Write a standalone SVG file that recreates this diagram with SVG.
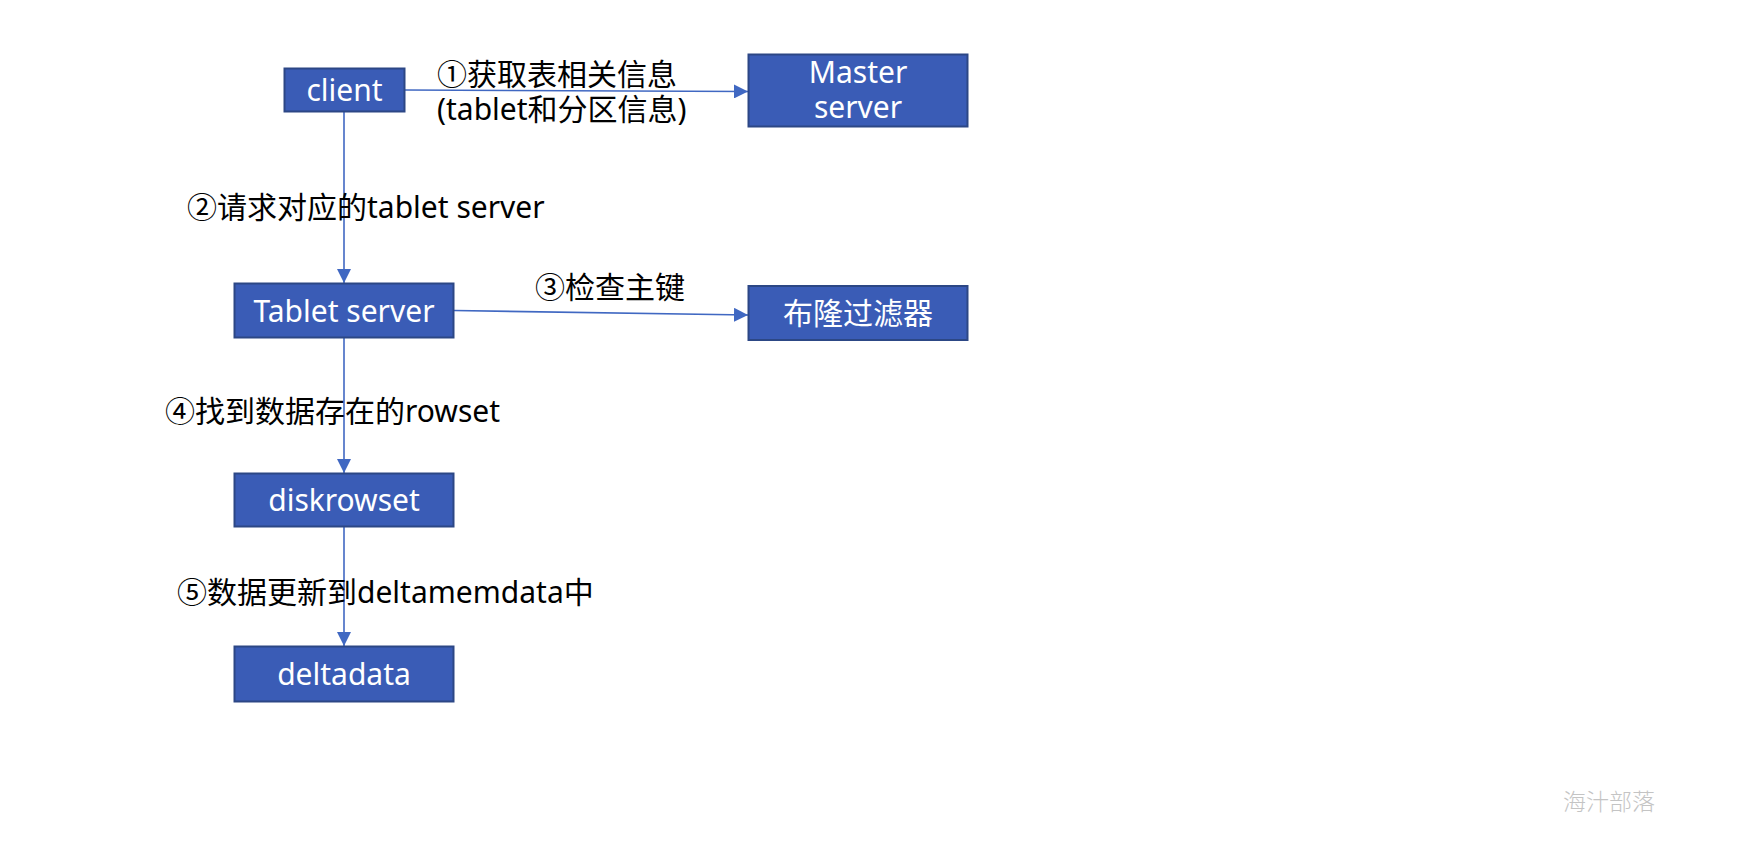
<svg xmlns="http://www.w3.org/2000/svg" width="1758" height="848" viewBox="0 0 1758 848">
<style>
.box{fill:#3A5CB6;stroke:#2C4785;stroke-width:2}
.nt{fill:#ffffff;font-family:"Noto Sans","Noto Sans CJK SC",sans-serif;font-size:30px;text-anchor:middle}
.lbl{fill:#000000;font-family:"Noto Sans","Noto Sans CJK SC",sans-serif;font-size:30px}
.ln{stroke:#4068C2;stroke-width:1.6;fill:none}
.wm{fill:#c4c4c4;font-family:"Noto Sans CJK SC","Noto Sans CJK JP",sans-serif;font-size:23px;font-weight:300}
</style>
<defs>
<marker id="ah" markerUnits="userSpaceOnUse" markerWidth="14" markerHeight="14" refX="14" refY="7" orient="auto">
<path d="M0,0 L14,7 L0,14 Z" fill="#4068C2"/>
</marker>
</defs>
<rect width="1758" height="848" fill="#ffffff"/>
<g id="connectors">
<line class="ln" x1="405" y1="90" x2="748" y2="91.5" marker-end="url(#ah)"/>
<line class="ln" x1="344" y1="112" x2="344" y2="283" marker-end="url(#ah)"/>
<line class="ln" x1="454" y1="310.5" x2="748" y2="315" marker-end="url(#ah)"/>
<line class="ln" x1="344" y1="338" x2="344" y2="473" marker-end="url(#ah)"/>
<line class="ln" x1="344" y1="527" x2="344" y2="646" marker-end="url(#ah)"/>
</g>
<g id="labels">
<text class="lbl" x="437" y="85">①获取表相关信息</text>
<text class="lbl" x="437" y="120">(tablet和分区信息)</text>
<text class="lbl" x="187" y="218">②请求对应的tablet server</text>
<text class="lbl" x="535" y="298">③检查主键</text>
<text class="lbl" x="165" y="422">④找到数据存在的rowset</text>
<text class="lbl" x="177" y="603">⑤数据更新到deltamemdata中</text>
</g>
<g id="client">
<rect class="box" x="284.5" y="68.5" width="120" height="43"/>
<text class="nt" x="344.5" y="100.5">client</text>
</g>
<g id="master">
<rect class="box" x="748.5" y="54.5" width="219" height="72"/>
<text class="nt" x="858" y="83">Master</text>
<text class="nt" x="858" y="118">server</text>
</g>
<g id="tablet">
<rect class="box" x="234.5" y="283.5" width="219" height="54"/>
<text class="nt" x="344" y="321.5">Tablet server</text>
</g>
<g id="bloom">
<rect class="box" x="748.5" y="286" width="219" height="54"/>
<text class="nt" x="858" y="324">布隆过滤器</text>
</g>
<g id="diskrowset">
<rect class="box" x="234.5" y="473.5" width="219" height="53"/>
<text class="nt" x="344" y="511">diskrowset</text>
</g>
<g id="deltadata">
<rect class="box" x="234.5" y="646.5" width="219" height="55"/>
<text class="nt" x="344" y="685">deltadata</text>
</g>
<text class="wm" x="1563" y="810">海汁部落</text>
</svg>
